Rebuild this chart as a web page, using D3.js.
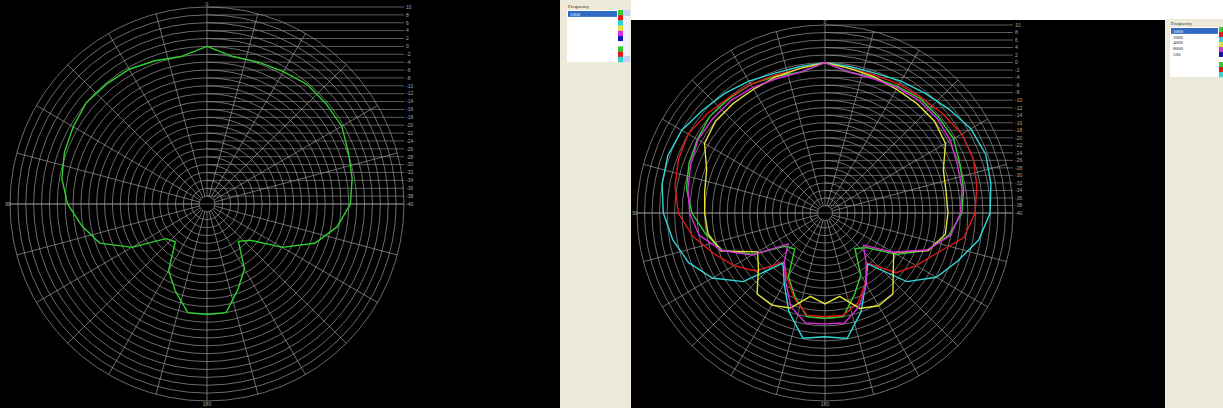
<!DOCTYPE html>
<html>
<head>
<meta charset="utf-8">
<script src="https://cdn.jsdelivr.net/npm/d3@7"></script>
<style>
  body { margin: 0; background: #ffffff; }
  svg { display: block; }
</style>
</head>
<body>
<script>
// polar angles (degrees, clockwise from top)
var angles = [0,10,20,30,40,50,60,70,80,90,100,110,120,130,140,150,160,170,
              180,190,200,210,220,230,240,250,260,270,280,290,300,310,320,330,340,350];
// ring values in dB
var ringTicks = [10,8,6,4,2,0,-2,-4,-6,-8,-10,-12,-14,-16,-18,-20,-22,-24,-26,-28,-30,-32,-34,-36,-38,-40];

var f1000 = [0,-2,-1.7,-1.2,-0.4,-0.5,-0.5,-1.8,-2.6,-3.6,-6.5,-10.9,-18,-25.7,-27.6,-21,-17,-12,
             -12,-12,-16.5,-20.5,-27.5,-26.3,-18,-11,-7.8,-4.6,-2.6,-1.5,-0.8,0,-0.3,-0.5,-1.3,-2];
var f2000 = [0,-1,-1,-0.5,0,1,2,2,1,-0.1,-2.5,-8.5,-12,-15.3,-22.7,-18.5,-14.5,-12.4,
             -12.4,-12.4,-16,-20,-23,-16,-12,-8.5,-4.3,-1,0.5,1.5,2,1,0,-0.5,-1,-1];
var f4000 = [0,-0.5,-0.5,0.5,1.5,3,4.8,5.5,4.8,3.9,1.5,-2.5,-5.8,-11.6,-22.3,-18.3,-12,-6.1,
             -7.1,-6.2,-12,-18.3,-22.6,-11.6,-5.4,-1.4,1.1,3,4,4.5,4,2.5,1.5,0.5,-0.5,-0.5];
var f8000 = [0,-1,-1.5,-2,-2,-2,-3,-6.5,-7.3,-7.3,-7.5,-10.8,-18.9,-16.3,-11.9,-11.5,-13,-17.5,
             -15.8,-17.5,-13.1,-11.7,-11.9,-16.9,-19.3,-10.5,-8.4,-8,-7.5,-6.5,-3,-2,-2,-2,-1.5,-1];
var f500  = [0,-2,-2,-1.5,-1,-1,-1.5,-2.5,-3,-4,-6,-11.2,-19.1,-26.7,-23,-18,-13.5,-10.3,
             -10.5,-10.3,-13.5,-19,-23.2,-27.2,-17.6,-10.8,-6,-4,-3,-2,-1,-1,-1,-1.5,-2,-2];

var leftNames = ["1000"];
var rightNames = ["1000","2000","4000","8000","500"];
var palette = ["#2fcf2f","#e01818","#30d4d4","#e2e23a","#d42ed4","#1414b4","#ffffff","#2fcf2f","#e01818","#30d4d4"];

var W = 1223, H = 408;
var svg = d3.select("body").append("svg").attr("width", W).attr("height", H);

function drawPolar(cx, cy, R, list) {
  var g = svg.append("g").attr("transform", "translate(" + cx + "," + cy + ")");
  var r = d3.scaleLinear().domain([-40, 10]).range([0, R]);
  var a = d3.scaleLinear().domain([0, 360]).range([0, 2 * Math.PI]);
  var grid = "#9a9a9a";

  // horizontal lines from the axis over to the labels
  g.selectAll(".hl").data(ringTicks).enter().append("line")
    .attr("x1", function(d) { return d == -40 ? -R : 0; }).attr("x2", R)
    .attr("y1", function(d) { return -r(d); })
    .attr("y2", function(d) { return -r(d); })
    .attr("stroke", grid).attr("stroke-width", 0.6);

  g.selectAll(".ring").data(ringTicks.slice(0, ringTicks.length - 1)).enter().append("circle")
    .attr("r", function(d) { return r(d); })
    .attr("fill", "none").attr("stroke", grid).attr("stroke-width", 0.7);

  var spokes = d3.range(0, 360, 15);
  g.selectAll(".spoke").data(spokes).enter().append("line")
    .attr("x1", function(d) { return r(-38) * Math.sin(a(d)); })
    .attr("y1", function(d) { return -r(-38) * Math.cos(a(d)); })
    .attr("x2", function(d) { return R * Math.sin(a(d)); })
    .attr("y2", function(d) { return -R * Math.cos(a(d)); })
    .attr("stroke", grid).attr("stroke-width", 0.7);

  g.selectAll(".rl").data(ringTicks).enter().append("text")
    .attr("x", R + 2)
    .attr("y", function(d) { return -r(d) + 1.8; })
    .text(function(d) { return d; })
    .attr("font-family", "Liberation Sans, sans-serif")
    .attr("font-size", "5px")
    .attr("fill", "#a8a8a8");

  var lbl = [["0", 0, -R - 1], ["180", 0, R + 5], ["90", -R - 2, 1.8]];
  g.selectAll(".al").data(lbl).enter().append("text")
    .attr("x", function(d) { return d[1]; })
    .attr("y", function(d) { return d[2]; })
    .attr("text-anchor", "middle")
    .text(function(d) { return d[0]; })
    .attr("font-family", "Liberation Sans, sans-serif")
    .attr("font-size", "5px")
    .attr("fill", "#a8a8a8");

  var line = d3.lineRadial()
    .angle(function(d, i) { return a(angles[i]); })
    .radius(function(d) { return r(d); })
    .curve(d3.curveLinearClosed);

  g.selectAll(".series").data(list).enter().append("path")
    .attr("d", function(d) { return line(d.values); })
    .attr("fill", "none")
    .attr("stroke", function(d) { return d.color; })
    .attr("stroke-width", 1.4);
}

function drawLegend(x, y, w, h, names, boxX, boxY, boxW, boxH, strip, scroll) {
  svg.append("rect").attr("x", x).attr("y", y).attr("width", w).attr("height", h).attr("fill", "#ece9d8");
  svg.append("text").attr("x", boxX + 1).attr("y", boxY - 2).text("Frequency")
    .attr("font-family", "Liberation Serif, serif").attr("font-size", "5px").attr("fill", "#222");
  svg.append("rect").attr("x", boxX).attr("y", boxY).attr("width", boxW).attr("height", boxH)
    .attr("fill", "#ffffff");
  var rowH = 5.9;
  svg.append("rect").attr("x", boxX + 1).attr("y", boxY + 1).attr("width", boxW - 2).attr("height", rowH)
    .attr("fill", "#316ac5");
  svg.selectAll(null).data(names).enter().append("text")
    .attr("x", boxX + 3)
    .attr("y", function(d, i) { return boxY + 5.6 + i * rowH; })
    .text(function(d) { return d; })
    .attr("font-family", "Liberation Serif, serif").attr("font-size", "5px")
    .attr("fill", function(d, i) { return i == 0 ? "#ffffff" : "#222"; });
  var cell = boxH / palette.length;
  svg.selectAll(null).data(palette).enter().append("rect")
    .attr("x", boxX + boxW)
    .attr("y", function(d, i) { return boxY + i * cell; })
    .attr("width", strip).attr("height", cell + 0.2)
    .attr("fill", function(d) { return d; });
  if (scroll) {
    svg.append("rect").attr("x", boxX + boxW + strip).attr("y", boxY).attr("width", scroll).attr("height", boxH)
      .attr("fill", "#eef2fb");
    svg.append("rect").attr("x", boxX + boxW + strip).attr("y", boxY).attr("width", scroll).attr("height", 6)
      .attr("fill", "#c3d3fd");
    svg.append("rect").attr("x", boxX + boxW + strip).attr("y", boxY + boxH - 6).attr("width", scroll).attr("height", 6)
      .attr("fill", "#c3d3fd");
  }
}

// left panel
svg.append("rect").attr("x", 0).attr("y", 0).attr("width", 560).attr("height", H).attr("fill", "#000");
drawPolar(207, 204, 197, [{ values: f1000, color: palette[0] }]);
drawLegend(560, 0, 71, H, leftNames, 567, 10, 51, 52, 5, 7);

// right panel
svg.append("rect").attr("x", 631).attr("y", 20).attr("width", 534).attr("height", H - 20).attr("fill", "#000");
drawPolar(825, 213, 188, [
  { values: f1000, color: palette[0] },
  { values: f2000, color: palette[1] },
  { values: f4000, color: palette[2] },
  { values: f8000, color: palette[3] },
  { values: f500,  color: palette[4] }
]);
drawLegend(1165, 19, 58, H - 19, rightNames, 1170, 27, 49, 50, 4, 0);
</script>
</body>
</html>
